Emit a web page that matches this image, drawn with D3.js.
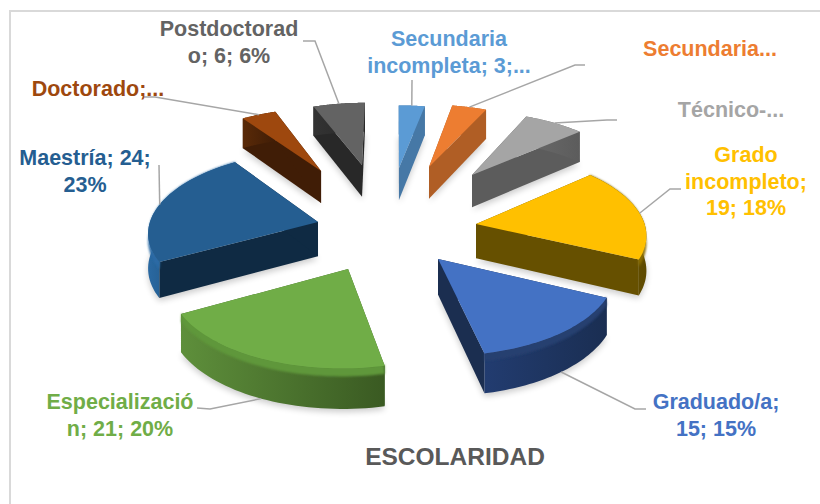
<!DOCTYPE html>
<html><head><meta charset="utf-8">
<script src="https://cdn.jsdelivr.net/npm/d3@7"></script>
<style>html,body{margin:0;padding:0;background:#fff}svg{display:block}text{font-family:"Liberation Sans",Arial,sans-serif;font-weight:700}</style>
</head><body><div id="c"></div>
<script>
const categories = ["Secundaria incompleta","Secundaria completa","Técnico","Grado incompleto","Graduado/a","Especialización","Maestría","Doctorado","Postdoctorado"];
const values = [3,4,7,19,15,21,24,4,6];
const labelLines = [["Secundaria","incompleta; 3;..."],["Secundaria..."],["Técnico-..."],["Grado","incompleto;","19; 18%"],["Graduado/a;","15; 15%"],["Especializació","n; 21; 20%"],["Maestría; 24;","23%"],["Doctorado;..."],["Postdoctorad","o; 6; 6%"]];
const topColors = ["#5B9BD5","#ED7D31","#A5A5A5","#FFC000","#4472C4","#70AD47","#255E91","#9E480E","#636363"];
const cutColors = ["#4678A6","#B05E25","#5C5C5C","#665000","#1B2E50","#3F6128","#0F2A43","#401D06","#282828"];
const wallLeft  = ["#4678A6","#B05E25","#6A6A6A","#6F5700","#223C70","#5E8F3B","#2A69A2","#5A2A08","#333333"];
const wallRight = ["#4678A6","#B05E25","#5C5C5C","#5E4A00","#1A2E52","#3A5A22","#123350","#401D06","#282828"];
const bevelColors = ["#4678A6","#B05E25","#5C5C5C","#8A6D00","#263F70","#5F973A","#2A6AA5","#5A2A08","#333333"];
const explodeX = [.019,.211,.481,.475,.239,-.269,-.464,-.477,-.218];
const explodeY = [-.670,-.685,-.569,.089,.511,.625,.064,-.627,-.715];
const labelX = [449,710,731,746,716,120,85,98,229];
const labelY = [46,56,117,162,409,409,165,96,36];
const leaderTail = [[[412,80]],[[575,65],[585,65]],[[607,120],[617,120]],[[670,189],[681,189]],[[635,409],[646,409]],[[210,409],[197,408]],[[159,165]],[[155,97],[143,97]],[[315,41],[303,41]]];
const leaderBottom = [false,false,false,false,true,true,false,false,false];

const W=820,H=504, cx=396, cy=217, Sx=167, Sy=78, persp=.1, depth=34;
const svg=d3.select("#c").append("svg").attr("width",W).attr("height",H);
const defs=svg.append("defs");
defs.append("filter").attr("id","sh").attr("x","-20%").attr("y","-20%").attr("width","140%").attr("height","140%").append("feGaussianBlur").attr("stdDeviation",3);
defs.append("filter").attr("id","bv").attr("x","-10%").attr("y","-10%").attr("width","120%").attr("height","120%").append("feGaussianBlur").attr("stdDeviation",1.1);

svg.append("rect").attr("x",10).attr("y",11).attr("width",W+20).attr("height",H+20).attr("fill","#fff").attr("stroke","#D9D9D9").attr("stroke-width",2);

const arcs=d3.pie().sort(null).value(d=>d)(values);
const line=d3.line();
function project(d,ang,r,z){
  const X=explodeX[d.index]+r*Math.sin(ang), Y=explodeY[d.index]-r*Math.cos(ang);
  const w=1-persp*Y;
  return [cx+Sx*X/w, cy+Sy*Y/w-z*depth/w];
}
function rim(d,r,z,rev){
  const n=40; const pts=d3.range(n+1).map(i=>project(d,d.startAngle+(d.endAngle-d.startAngle)*i/n,r,z));
  return rev?pts.reverse():pts;
}
const order=arcs.map((d,i)=>({d,i})).sort((a,b)=>explodeY[a.i]-explodeY[b.i]);

order.forEach(({d,i})=>{
  const g=svg.append("g");
  const grad=defs.append("linearGradient").attr("id","w"+i);
  grad.append("stop").attr("offset",0).attr("stop-color",wallLeft[i]);
  grad.append("stop").attr("offset",1).attr("stop-color",wallRight[i]);
  const tipT=project(d,0,0,0), tipB=project(d,0,0,-1);
  const bottom=[tipB,...rim(d,1,-1)];
  g.append("path").attr("d",line(bottom.map(p=>[p[0],p[1]+3]))+"Z").attr("fill","#000").attr("opacity",.2).attr("filter","url(#sh)");
  [d.startAngle,d.endAngle].forEach(a=>{
    g.append("path").attr("d",line([tipT,project(d,a,1,0),project(d,a,1,-1),tipB])+"Z").attr("fill",cutColors[i]);
  });
  g.append("path").attr("d",line([...rim(d,1,0),...rim(d,1,-1,true)])+"Z").attr("fill",`url(#w${i})`);
  if(d.endAngle-d.startAngle>.6){
    g.append("path").attr("d",line([...rim(d,.995,.02),...rim(d,1,-.2,true)])+"Z")
      .attr("fill",bevelColors[i]).attr("filter","url(#bv)");
  }
  g.append("path").attr("d",line([tipT,...rim(d,1,0)])+"Z").attr("fill",topColors[i]);
});

arcs.forEach((d,i)=>{
  const mid=(d.startAngle+d.endAngle)/2;
  const start=project(d,mid,1,leaderBottom[i]?-1:0);
  svg.append("path").attr("d",line([start,...leaderTail[i]])).attr("fill","none").attr("stroke","#A6A6A6").attr("stroke-width",1.5);
});
labelLines.forEach((ls,i)=>{
  const t=svg.append("text").attr("text-anchor","middle").attr("font-size",21.5).attr("fill",topColors[i]);
  ls.forEach((s,k)=>t.append("tspan").attr("x",labelX[i]).attr("y",labelY[i]+k*26.7).text(s));
});
svg.append("text").attr("x",455).attr("y",465).attr("text-anchor","middle").attr("font-size",24.5).attr("fill","#595959").text("ESCOLARIDAD");
</script></body></html>
